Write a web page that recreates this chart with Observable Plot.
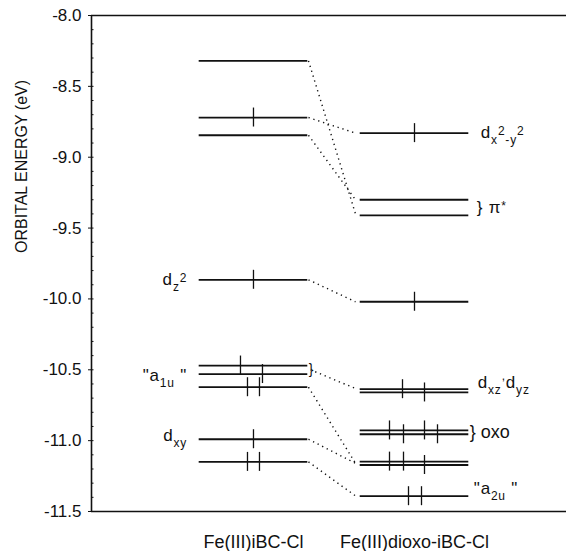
<!DOCTYPE html>
<html><head><meta charset="utf-8">
<script src="https://cdn.jsdelivr.net/npm/d3@7"></script>
<script src="https://cdn.jsdelivr.net/npm/@observablehq/plot@0.6"></script>
<style>body{margin:0;background:#fff}</style>
</head><body><div id="chart"></div>
<script>
// ---- data ----
const columns = ["Fe(III)iBC-Cl", "Fe(III)dioxo-iBC-Cl"];
const yTicks = [-11.5, -11.0, -10.5, -10.0, -9.5, -9.0, -8.5, -8.0];
const leftEnergies  = [-8.32, -8.72, -8.845, -9.865, -10.47, -10.53, -10.623, -10.99, -11.15];
const leftSpins     = [0, 1, 0, 1, 1, 1, 2, 1, 2];
const rightEnergies = [-8.83, -9.30, -9.41, -10.02, -10.637, -10.66, -10.928, -10.955, -11.148, -11.172, -11.392];
const rightSpins    = [1, 0, 0, 1, 1, 1, 2, 2, 2, 1, 2];
const linkFrom = [-8.32, -8.72, -8.845, -9.865, -10.50, -10.623, -10.99, -11.15];
const linkTo   = [-9.40, -8.83, -9.30, -10.02, -10.632, -11.16, -11.16, -11.39];
const leftLabels = ["d_{z}^{2}", "\"a_{1u} \"", "d_{xy}"];
const leftLabelEnergies = [-9.865, -10.54, -10.965];
const rightLabels = ["d_{x}^{2}_{-y}^{2}", "} π^{*}", "d_{xz}~{,}d_{yz}", "} oxo", "\"a_{2u} \""];
const rightLabelEnergies = [-8.825, -9.355, -10.59, -10.94, -11.335];
const bracketEnergy = -10.50;

// ---- layout (pixels) ----
const W = 566, H = 551, mL = 91, mR = 0, mT = 15, mB = 40;
const xDom = [-1.006, 1.944];
const k = (W - mL - mR) / (xDom[1] - xDom[0]);
const half = 54.3 / k;
const spinLayout = {
  left:  [[], [0], [], [0], [-13], [9], [-6, 6], [0], [-6, 6]],
  right: [[0], [], [], [0], [-12], [10], [-25, 10], [-11, 23], [-25, -11], [10], [-6, 7]]
};
const rightLabelGap = [12, 8, 9, 1, 5];
const spinHalf = 0.067;

const levels = [
  ...leftEnergies.map((e, i) => ({col: 0, e, n: leftSpins[i], off: spinLayout.left[i]})),
  ...rightEnergies.map((e, i) => ({col: 1, e, n: rightSpins[i], off: spinLayout.right[i]}))
];
const spins = levels.flatMap(l => l.off.slice(0, l.n).map(o => ({x: l.col + o / k, e: l.e})));
const links = linkFrom.map((e, i) => ({e1: e, e2: linkTo[i], x1: 0 + (i === 4 ? 57 : 55) / k, x2: 1 - 59 / k}));
const minorTicks = d3.range(0, 36).map(i => -11.5 + i * 0.1);

const marks = [
  Plot.ruleX([xDom[0]], {y1: -11.5, y2: -8.0, strokeWidth: 1.6}),
  Plot.ruleY([-8.0, -11.5], {strokeWidth: 1.6}),
  Plot.ruleY(minorTicks, {x1: xDom[0], x2: xDom[0] + 2.5 / k, strokeWidth: 1}),
  Plot.axisY({ticks: yTicks, tickSize: 3, tickPadding: 7, tickFormat: d => d.toFixed(1), fontSize: 17, label: null}),
  Plot.ruleY(levels, {y: "e", x1: d => d.col - half, x2: d => d.col + half, strokeWidth: 1.8}),
  Plot.link(links, {x1: "x1", y1: "e1", x2: "x2", y2: "e2", strokeWidth: 1.4, strokeDasharray: "1.3,3.8"}),
  Plot.ruleX(spins, {x: "x", y1: d => d.e - spinHalf, y2: d => d.e + spinHalf, strokeWidth: 1.3}),
  Plot.text([bracketEnergy], {y: d => d, x: half, dx: 1, text: () => "}", textAnchor: "start", fontSize: 14}),
  Plot.text(leftLabels, {x: -half, y: (d, i) => leftLabelEnergies[i], text: d => d, textAnchor: "end", dx: -12, fontSize: 17}),
  ...rightLabels.map((t, i) => Plot.text([t], {x: 1 + half, y: rightLabelEnergies[i], text: d => d, textAnchor: "start", dx: rightLabelGap[i], fontSize: t.includes("oxo") ? 18 : 17})),
  Plot.text(columns, {x: (d, i) => i, y: -11.5, text: d => d, dy: 30.5, fontSize: 18}),
  Plot.text(["ORBITAL ENERGY (eV)"], {frameAnchor: "left", rotate: -90, dx: -69.5, dy: -10.5, text: d => d, fontSize: 16})
];

const chart = Plot.plot({
  width: W, height: H, marginLeft: mL, marginRight: mR, marginTop: mT, marginBottom: mB,
  x: {domain: xDom, axis: null},
  y: {domain: [-11.5, -8.0], axis: null},
  style: {fontFamily: "'Liberation Sans', Arial, sans-serif", fontSize: "16px", color: "#111", background: "#fff"},
  marks
});

// rich text: _{sub}, ^{sup}, ~{high}
const ns = "http://www.w3.org/2000/svg";
const shifts = {"_": 6, "^": -3, "~": -8};
d3.select(chart).selectAll("text").each(function () {
  const s = this.textContent;
  if (!/[_^~]\{/.test(s)) return;
  const re = /([_^~])\{([^}]*)\}/g;
  while (this.firstChild) this.removeChild(this.firstChild);
  let last = 0, cur = 0, m;
  const add = (txt, shift, small) => {
    const ts = document.createElementNS(ns, "tspan");
    ts.textContent = txt;
    const dy = shift - cur;
    if (dy) ts.setAttribute("dy", dy);
    if (small) ts.setAttribute("font-size", "12px");
    cur = shift;
    this.appendChild(ts);
  };
  while ((m = re.exec(s))) {
    if (m.index > last) add(s.slice(last, m.index), 0, false);
    add(m[2], shifts[m[1]], true);
    last = re.lastIndex;
  }
  if (last < s.length) add(s.slice(last), 0, false);
  this.setAttribute("letter-spacing", "0.8");
  this.style.whiteSpace = "pre";
});
document.getElementById("chart").appendChild(chart);
</script>
</body></html>
